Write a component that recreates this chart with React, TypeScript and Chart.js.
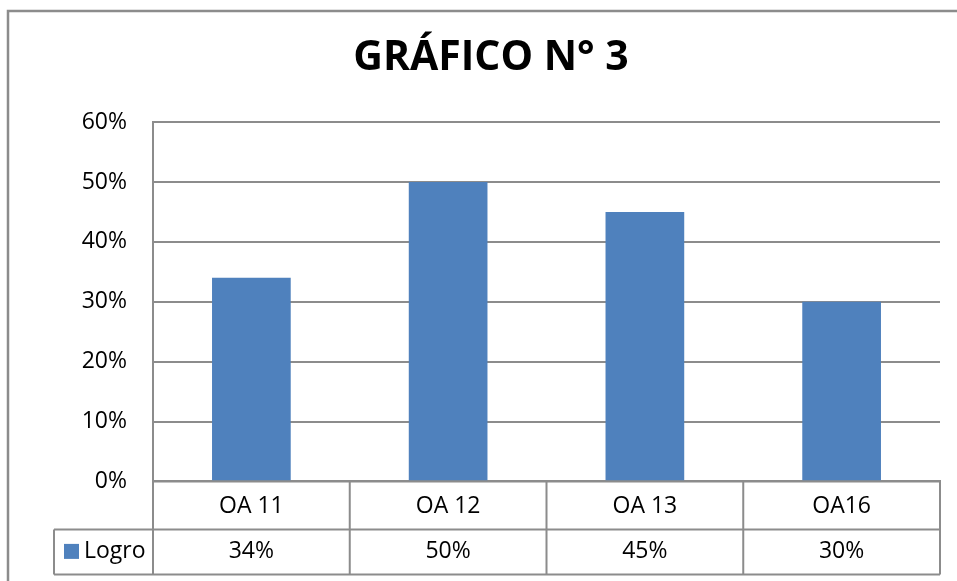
import React, { useEffect, useRef } from 'react';
import { Chart, registerables } from 'chart.js';

Chart.register(...registerables);

const titleText = 'GRÁFICO N° 3';
const categories = ['OA 11', 'OA 12', 'OA 13', 'OA16'];
const seriesName = 'Logro';
const logro = [34, 50, 45, 30];
const yMin = 0;
const yMax = 60;
const yStep = 10;

const GRID = '#8c8c8c';
const BAR = '#4F81BD';
const FONT = "'Open Sans', sans-serif";
const TEXT_SIZE = 23;

const tablePlugin = {
  id: 'dataTable',
  beforeDraw(chart: any) {
    const { ctx } = chart;
    ctx.save();
    ctx.fillStyle = '#ffffff';
    ctx.fillRect(0, 0, chart.width, chart.height);
    ctx.strokeStyle = GRID;
    ctx.lineWidth = 2.5;
    ctx.strokeRect(8, 11, chart.width + 50, chart.height + 50);
    ctx.restore();
  },
  afterDraw(chart: any) {
    const { ctx, chartArea, scales } = chart;
    const xs = scales.x;
    const top = chartArea.bottom;
    const row1 = top + 48;
    const row2 = row1 + 45;
    const legendLeft = 54;
    const n = categories.length;
    const centers = categories.map((_, i) => xs.getPixelForValue(i));
    const bounds: number[] = [chartArea.left];
    for (let i = 0; i < n - 1; i++) bounds.push((centers[i] + centers[i + 1]) / 2);
    bounds.push(chartArea.right);

    ctx.save();
    ctx.strokeStyle = GRID;
    ctx.lineWidth = 2;
    ctx.beginPath();
    ctx.moveTo(chartArea.left, top);
    ctx.lineTo(chartArea.right, top);
    ctx.moveTo(legendLeft, row1);
    ctx.lineTo(chartArea.right, row1);
    ctx.moveTo(legendLeft, row2);
    ctx.lineTo(chartArea.right, row2);
    bounds.forEach((b) => {
      ctx.moveTo(b, top);
      ctx.lineTo(b, row2);
    });
    ctx.moveTo(legendLeft, row1);
    ctx.lineTo(legendLeft, row2);
    ctx.stroke();

    const midRow2 = (row1 + row2) / 2;
    ctx.fillStyle = BAR;
    ctx.fillRect(legendLeft + 10, midRow2 - 8, 15, 15);
    ctx.fillStyle = '#000000';
    ctx.font = `${TEXT_SIZE}px ${FONT}`;
    ctx.textBaseline = 'middle';
    ctx.textAlign = 'left';
    ctx.fillText(seriesName, legendLeft + 30, midRow2);
    ctx.textAlign = 'center';
    logro.forEach((v, i) => {
      ctx.fillText(`${v}%`, centers[i], midRow2);
    });
    ctx.restore();
  },
};

export default function App() {
  const ref = useRef<HTMLCanvasElement | null>(null);
  useEffect(() => {
    if (!ref.current) return;
    const chart = new Chart(ref.current, {
      type: 'bar',
      data: {
        labels: categories,
        datasets: [
          {
            label: seriesName,
            data: logro,
            backgroundColor: BAR,
            categoryPercentage: 1,
            barPercentage: 0.4,
          },
        ],
      },
      options: {
        responsive: false,
        animation: false,
        devicePixelRatio: 1,
        layout: { padding: { top: 10, right: 17, left: 42, bottom: 50 } },
        plugins: {
          legend: { display: false },
          tooltip: { enabled: false },
          title: {
            display: true,
            text: titleText,
            color: '#000000',
            font: { family: FONT, size: 41, weight: 'bold' },
            padding: { top: 24, bottom: 39 },
          },
        },
        scales: {
          x: {
            grid: { drawOnChartArea: false, drawTicks: false },
            border: { color: GRID, width: 2 },
            ticks: { padding: 11, color: '#000000', font: { family: FONT, size: TEXT_SIZE } },
          },
          y: {
            min: yMin,
            max: yMax,
            afterFit: (scale: any) => {
              scale.width = 111;
            },
            grid: { color: GRID, lineWidth: 2, drawTicks: false },
            border: { color: GRID, width: 2 },
            ticks: {
              stepSize: yStep,
              padding: 26,
              color: '#000000',
              font: { family: FONT, size: TEXT_SIZE },
              callback: (v: any) => `${v}%`,
            },
          },
        },
      },
      plugins: [tablePlugin],
    });
    return () => chart.destroy();
  }, []);
  return (
    <div style={{ position: 'fixed', left: 0, top: 0, width: 957, height: 581, background: '#fff' }}>
      <canvas ref={ref} width={957} height={581} style={{ display: 'block' }} />
    </div>
  );
}
